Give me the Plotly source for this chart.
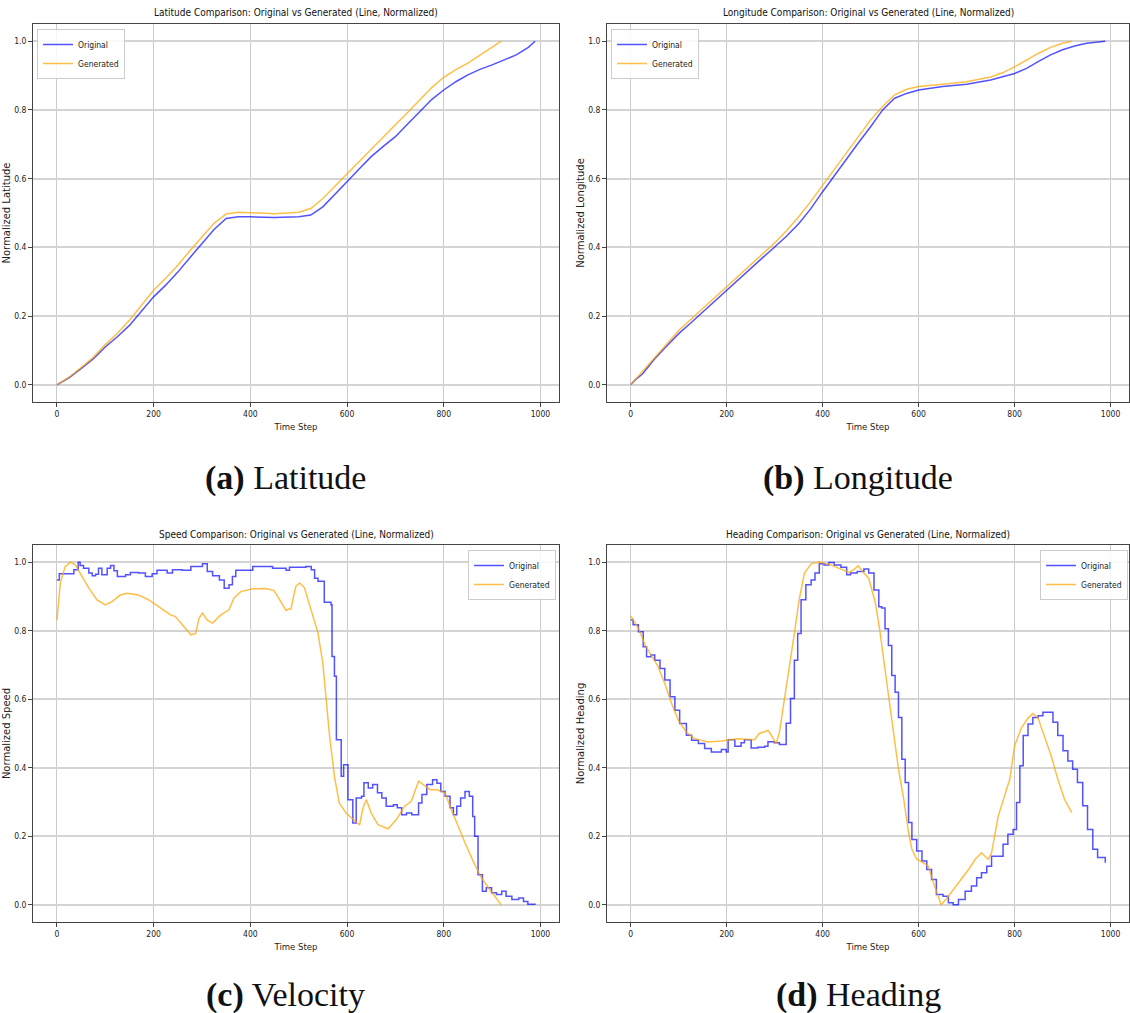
import plotly.graph_objects as go

W, H = 1130, 1013

# ---------------- data ----------------
lat_orig_t = [0, 25, 50, 75, 100, 125, 150, 175, 200, 225, 250, 275, 300, 325, 350, 375, 400, 450, 500, 525,
              550, 575, 600, 625, 650, 675, 700, 725, 750, 775, 800, 825, 850, 875, 900, 925, 950, 975, 989]
lat_orig_v = [0.0, 0.02, 0.047, 0.075, 0.11, 0.14, 0.173, 0.213, 0.256, 0.29, 0.328, 0.37, 0.411, 0.452, 0.484,
              0.489, 0.489, 0.487, 0.489, 0.494, 0.518, 0.553, 0.591, 0.628, 0.664, 0.694, 0.722, 0.758, 0.795,
              0.83, 0.858, 0.882, 0.902, 0.918, 0.931, 0.946, 0.96, 0.982, 1.0]
lat_gen_t = [0, 25, 50, 75, 100, 125, 150, 175, 200, 225, 250, 275, 300, 325, 350, 375, 400, 450, 500, 525,
             550, 575, 600, 625, 650, 675, 700, 725, 750, 775, 800, 825, 850, 875, 900, 919]
lat_gen_v = [0.0, 0.022, 0.05, 0.08, 0.117, 0.15, 0.188, 0.23, 0.275, 0.31, 0.348, 0.39, 0.43, 0.47, 0.497,
             0.502, 0.501, 0.498, 0.502, 0.513, 0.542, 0.578, 0.615, 0.652, 0.688, 0.722, 0.757, 0.792, 0.829,
             0.865, 0.895, 0.917, 0.936, 0.96, 0.984, 1.0]

lon_orig_t = [0, 10, 25, 50, 75, 100, 125, 150, 175, 200, 225, 250, 275, 300, 325, 350, 375, 400, 425, 450,
              475, 500, 525, 550, 575, 600, 650, 700, 750, 800, 825, 850, 875, 900, 925, 950, 975, 989]
lon_orig_v = [0.0, 0.015, 0.032, 0.076, 0.113, 0.149, 0.18, 0.212, 0.243, 0.275, 0.306, 0.338, 0.37, 0.401,
              0.433, 0.469, 0.512, 0.562, 0.61, 0.659, 0.705, 0.751, 0.8, 0.834, 0.848, 0.858, 0.868, 0.875,
              0.887, 0.906, 0.921, 0.941, 0.96, 0.975, 0.986, 0.994, 0.999, 1.0]
lon_gen_t = [0, 25, 50, 75, 100, 125, 150, 175, 200, 225, 250, 275, 300, 325, 350, 375, 400, 425, 450, 475,
             500, 525, 550, 575, 600, 650, 700, 750, 775, 800, 825, 850, 875, 900, 919]
lon_gen_v = [0.0, 0.04, 0.081, 0.12, 0.158, 0.19, 0.222, 0.254, 0.285, 0.316, 0.348, 0.38, 0.413, 0.449,
             0.489, 0.533, 0.581, 0.63, 0.678, 0.725, 0.771, 0.81, 0.844, 0.86, 0.868, 0.875, 0.882, 0.896,
             0.908, 0.925, 0.945, 0.965, 0.982, 0.994, 1.0]

spd_orig_t = [0, 5, 35, 44, 48, 55, 66, 73, 80, 86, 93, 104, 111, 118, 125, 142, 152, 169, 183, 197,
              207, 228, 239, 259, 277, 301, 311, 322, 336, 346, 356, 363, 370, 391, 405, 446, 474, 481, 515, 526,
              533, 540, 553, 567, 569, 574, 578, 588, 593, 602, 612, 619, 630, 635, 644, 653, 663, 672, 681, 696,
              704, 713, 723, 734, 748, 755, 765, 777, 786, 794, 803, 813, 820, 827, 835, 844, 853, 860, 864, 871,
              880, 888, 899, 909, 920, 929, 941, 955, 965, 974, 989]
spd_orig_v = [0.948, 0.966, 0.978, 1.0, 0.99, 0.982, 0.968, 0.96, 0.965, 0.982, 0.963, 0.982, 0.99, 0.975,
              0.958, 0.963, 0.97, 0.968, 0.958, 0.966,
              0.976, 0.968, 0.978, 0.976, 0.987, 0.995, 0.973, 0.96, 0.948, 0.924, 0.934, 0.958, 0.976, 0.976,
              0.987, 0.982, 0.976, 0.985, 0.987, 0.978,
              0.953, 0.944, 0.883, 0.876, 0.725, 0.667, 0.482, 0.375, 0.409, 0.307, 0.239, 0.312, 0.317, 0.356,
              0.341, 0.351, 0.327, 0.312, 0.288, 0.292,
              0.283, 0.263, 0.268, 0.263, 0.297, 0.322, 0.351, 0.365, 0.355, 0.331, 0.317, 0.283, 0.263, 0.288,
              0.312, 0.331, 0.317, 0.258, 0.2, 0.088,
              0.04, 0.05, 0.035, 0.03, 0.04, 0.025, 0.016, 0.02, 0.01, 0.002, 0.0]
spd_gen_t = [0, 7, 17, 28, 38, 52, 66, 83, 100, 114, 131, 145, 169, 190, 211, 235, 245, 259, 277, 287,
             294, 301, 311, 322, 339, 356, 366, 380, 405, 432, 449, 463, 474, 479, 484, 494, 502, 512, 526, 540,
             550, 557, 564, 574, 584, 598, 612, 626, 633, 640, 650, 664, 685, 702, 719, 733, 748, 758, 772, 786,
             803, 813, 827, 844, 861, 878, 895, 909, 919]
spd_gen_v = [0.831, 0.939, 0.987, 1.0, 0.992, 0.958, 0.924, 0.89, 0.875, 0.885, 0.904, 0.909, 0.904, 0.89,
             0.87, 0.846, 0.841, 0.817, 0.788, 0.792,
             0.836, 0.851, 0.831, 0.822, 0.846, 0.861, 0.895, 0.914, 0.922, 0.923, 0.917, 0.885, 0.859, 0.863,
             0.863, 0.929, 0.939, 0.925, 0.861, 0.793,
             0.705, 0.588, 0.492, 0.375, 0.297, 0.268, 0.249, 0.233, 0.283, 0.307, 0.268, 0.234, 0.222, 0.249,
             0.288, 0.302, 0.361, 0.351, 0.336, 0.336,
             0.327, 0.288, 0.239, 0.181, 0.127, 0.079, 0.045, 0.02, 0.0]

hdg_orig_t = [0, 5, 16, 26, 33, 42, 50, 61, 71, 82, 92, 102, 116, 127, 141, 154, 168, 189, 199, 203,
              217, 230, 237, 251, 265, 279, 286, 299, 310, 324, 333, 341, 348, 355, 365, 376, 384, 393, 403, 413,
              424, 438, 450, 458, 472, 486, 496, 507, 517, 523, 530, 537, 544, 551, 558, 565, 572, 579, 586, 596,
              607, 617, 627, 637, 651, 662, 672, 683, 697, 710, 721, 731, 742, 752, 776, 786, 797, 804, 811, 818,
              828, 838, 849, 859, 880, 890, 901, 911, 921, 931, 942, 952, 963, 973, 989]
hdg_orig_v = [0.831, 0.817, 0.797, 0.753, 0.724, 0.729, 0.714, 0.69, 0.656, 0.607, 0.568, 0.529, 0.495, 0.48,
              0.471, 0.456, 0.446, 0.453, 0.446, 0.482,
              0.463, 0.473, 0.482, 0.458, 0.46, 0.463, 0.476, 0.473, 0.468, 0.53, 0.602, 0.714, 0.792, 0.89,
              0.934, 0.948, 0.968, 0.995, 0.992, 0.999,
              0.992, 0.985, 0.963, 0.968, 0.973, 0.98, 0.968, 0.919, 0.87, 0.866, 0.806, 0.757, 0.669, 0.62,
              0.547, 0.425, 0.357, 0.24, 0.191, 0.157,
              0.128, 0.103, 0.074, 0.03, 0.025, 0.006, 0.0, 0.016, 0.04, 0.055, 0.079, 0.094, 0.113, 0.142,
              0.177, 0.206, 0.22, 0.299, 0.406, 0.494,
              0.528, 0.547, 0.552, 0.562, 0.533, 0.494, 0.45, 0.42, 0.396, 0.357, 0.289, 0.22, 0.162, 0.138, 0.123]
hdg_gen_t = [0, 16, 30, 44, 57, 71, 85, 99, 116, 133, 161, 189, 223, 258, 268, 286, 293, 303, 310, 320,
             331, 341, 351, 362, 376, 393, 417, 438, 455, 465, 474, 483, 496, 510, 519, 527, 537, 548, 558, 569,
             579, 586, 596, 610, 620, 631, 647, 662, 683, 704, 718, 731, 745, 752, 766, 779, 790, 800, 814, 828,
             838, 849, 862, 876, 890, 904, 919]
hdg_gen_v = [0.843, 0.807, 0.758, 0.724, 0.695, 0.646, 0.588, 0.539, 0.504, 0.485, 0.475, 0.478, 0.485, 0.482,
             0.5, 0.509, 0.495, 0.47, 0.504, 0.597,
             0.695, 0.792, 0.89, 0.968, 0.995, 1.0, 0.992, 0.98, 0.97, 0.978, 0.989, 0.973, 0.953, 0.88, 0.802,
             0.718, 0.611, 0.494, 0.396, 0.308,
             0.211, 0.162, 0.133, 0.123, 0.113, 0.064, 0.0, 0.025, 0.064, 0.103, 0.133, 0.152, 0.133, 0.152,
             0.259, 0.318, 0.367, 0.464, 0.516, 0.545,
             0.558, 0.545, 0.494, 0.436, 0.367, 0.308, 0.269]

titles = ["Latitude Comparison: Original vs Generated (Line, Normalized)",
          "Longitude Comparison: Original vs Generated (Line, Normalized)",
          "Speed Comparison: Original vs Generated (Line, Normalized)",
          "Heading Comparison: Original vs Generated (Line, Normalized)"]
ylabels = ["Normalized Latitude", "Normalized Longitude", "Normalized Speed", "Normalized Heading"]
captions = ["<b>(a)</b> Latitude", "<b>(b)</b> Longitude", "<b>(c)</b> Velocity", "<b>(d)</b> Heading"]
series_names = ["Original", "Generated"]
x_ticks = [0, 200, 400, 600, 800, 1000]
y_ticks = [0.0, 0.2, 0.4, 0.6, 0.8, 1.0]

# ---------------- styling / layout ----------------
BLUE = "rgba(0,0,255,0.68)"
ORANGE = "rgba(255,165,0,0.72)"
NARROW = "DejaVu Sans Condensed, Liberation Sans Narrow, Arial Narrow, sans-serif"
SERIF = "Liberation Serif, DejaVu Serif, serif"

# pixel boxes of the four axes (left, right, top, bottom)
boxes = [(33, 559, 24, 402), (607, 1129, 24, 402), (33, 559, 545, 922), (607, 1129, 545, 922)]
title_y = [13, 13, 534, 534]
caption_pos = [(285, 478), (858, 478), (285, 995), (858, 995)]
legend_pos = [("left", 37, 29), ("left", 611, 29), ("right", 556, 550), ("right", 1128, 550)]
shapes_hv = ["linear", "linear", "hv", "hv"]

data = [
    (lat_orig_t, lat_orig_v, lat_gen_t, lat_gen_v),
    (lon_orig_t, lon_orig_v, lon_gen_t, lon_gen_v),
    (spd_orig_t, spd_orig_v, spd_gen_t, spd_gen_v),
    (hdg_orig_t, hdg_orig_v, hdg_gen_t, hdg_gen_v),
]

fig = go.Figure()
layout = dict(width=W, height=H, margin=dict(l=0, r=0, t=0, b=0),
              paper_bgcolor="white", plot_bgcolor="white", annotations=[])

for i, (ot, ov, gt, gv) in enumerate(data):
    k = "" if i == 0 else str(i + 1)
    leg = "legend" if i == 0 else "legend" + str(i + 1)
    fig.add_trace(go.Scatter(x=ot, y=ov, mode="lines", name=series_names[0],
                             line=dict(color=BLUE, width=1.5, shape=shapes_hv[i]),
                             xaxis="x" + k, yaxis="y" + k, legend=leg))
    fig.add_trace(go.Scatter(x=gt, y=gv, mode="lines", name=series_names[1],
                             line=dict(color=ORANGE, width=1.5),
                             xaxis="x" + k, yaxis="y" + k, legend=leg))
    l, r, t, b = boxes[i]
    common = dict(showline=True, mirror=True, linecolor="#444", linewidth=1,
                  ticks="outside", ticklen=4, tickcolor="#444", zeroline=False,
                  tickfont=dict(family=NARROW, size=8.5, color="#222"))
    layout["xaxis" + k] = dict(domain=[l / W, r / W], range=[-49.45, 1038.45], anchor="y" + k,
                               tickvals=x_ticks, showgrid=True, gridcolor="#cbcbcb", gridwidth=1,
                               title=dict(text="Time Step", font=dict(family=NARROW, size=9.5, color="#222"),
                                          standoff=5), **common)
    layout["yaxis" + k] = dict(domain=[1 - b / H, 1 - t / H], range=[-0.05, 1.05], anchor="x" + k,
                               tickvals=y_ticks, tickformat=".1f", showgrid=True, gridcolor="#d4d4d4",
                               gridwidth=1.6,
                               title=dict(text=ylabels[i], font=dict(family="DejaVu Sans", size=10, color="#222"),
                                          standoff=1), **common)
    side, lx, ly = legend_pos[i]
    layout[leg] = dict(x=lx / W, y=1 - ly / H, xanchor=side, yanchor="top", xref="paper", yref="paper",
                       bgcolor="rgba(255,255,255,0.85)", bordercolor="#cccccc", borderwidth=1,
                       font=dict(family=NARROW, size=8.5, color="#222"), itemwidth=30,
                       tracegroupgap=0)
    layout["annotations"].append(dict(text=titles[i], x=(l + r) / 2 / W, y=1 - title_y[i] / H, xref="paper",
                                      yref="paper", showarrow=False, xanchor="center", yanchor="middle",
                                      font=dict(family=NARROW, size=10, color="#111")))
    cx, cy = caption_pos[i]
    layout["annotations"].append(dict(text=captions[i], x=cx / W, y=1 - cy / H, xref="paper", yref="paper",
                                      showarrow=False, xanchor="center", yanchor="middle",
                                      font=dict(family=SERIF, size=34, color="#111")))

fig.update_layout(**layout)
fig.write_html("out.html")
